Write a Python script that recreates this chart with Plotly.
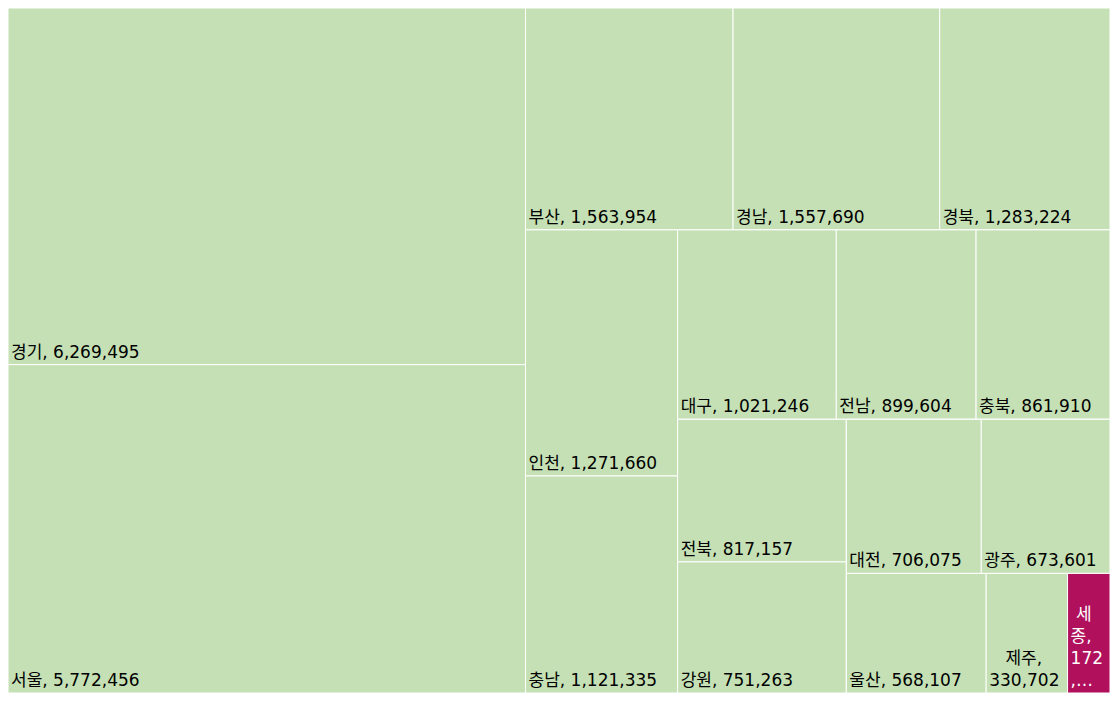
import plotly.graph_objects as go

regions = ["경기", "서울", "부산", "경남", "경북", "인천", "충남", "대구", "전남",
           "충북", "전북", "강원", "대전", "광주", "울산", "제주", "세종"]
values = [6269495, 5772456, 1563954, 1557690, 1283224, 1271660, 1121335, 1021246, 899604,
          861910, 817157, 751263, 706075, 673601, 568107, 330702, 172364]
highlight = "세종"

# grouping of tiles (how the reference arranges its rectangles)
group_ids = ["L", "R", "R1", "R2", "R2a", "R2b", "R2b1", "R2b2", "R2b2a", "R2b2b", "F1", "F2"]
group_parents = ["", "", "R", "R", "R2", "R2", "R2b", "R2b", "R2b2", "R2b2", "R2b2b", "R2b2b"]
region_groups = ["L", "L", "R1", "R1", "R1", "R2a", "R2a", "R2b1", "R2b1",
                 "R2b1", "R2b2a", "R2b2a", "F1", "F1", "F2", "F2", "F2"]

GREEN = "#c5e0b4"
MAGENTA = "#b0105c"
NB = "\u00a0"

def label_text(name, v):
    s = f"{v:,}"
    if name == "제주":
        return f"{NB*3}{name},<br>{s}"
    if name == "세종":
        return f"{NB}{name[0]}<br>{name[1]},<br>{s[:3]}<br>,…"
    return f"{name}, {s}"

ids = group_ids + regions
labels = [""] * len(group_ids) + regions
parents = group_parents + region_groups
vals = [0] * len(group_ids) + values
texts = [""] * len(group_ids) + [label_text(n, v) for n, v in zip(regions, values)]
colors = [GREEN] * len(group_ids) + [MAGENTA if n == highlight else GREEN for n in regions]
fcolors = ["black"] * len(group_ids) + ["white" if n == highlight else "black" for n in regions]

fig = go.Figure(go.Treemap(
    ids=ids,
    labels=labels,
    parents=parents,
    values=vals,
    branchvalues="remainder",
    text=texts,
    textinfo="text",
    textposition="bottom left",
    sort=False,
    marker=dict(colors=colors, line=dict(color="white", width=1),
                pad=dict(t=0, l=0, r=0, b=0), depthfade=False),
    textfont=dict(family="DejaVu Sans, Noto Sans CJK KR", size=17, color=fcolors),
    tiling=dict(packing="squarify", squarifyratio=1, pad=0),
    pathbar=dict(visible=False),
    hoverinfo="label+value",
))
fig.update_layout(
    width=1118, height=701,
    margin=dict(l=0, r=16, t=0, b=16),
    paper_bgcolor="white",
    font=dict(family="DejaVu Sans, Noto Sans CJK KR"),
    uniformtext=dict(minsize=17, mode="show"),
)
fig.write_html("out.html")
